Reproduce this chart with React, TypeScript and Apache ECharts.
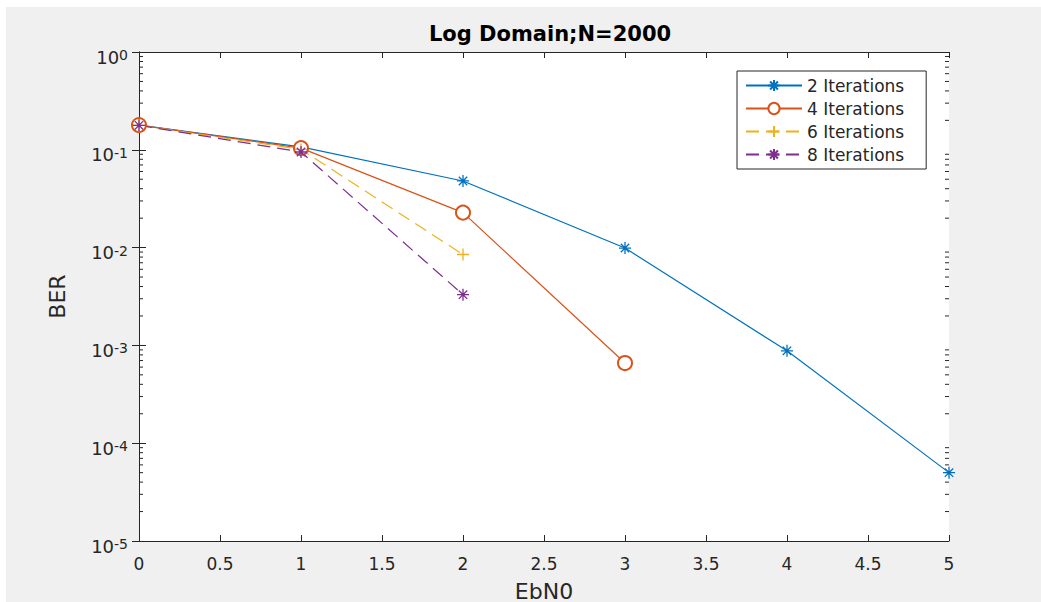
import React, { useEffect, useRef } from 'react';
import * as echarts from 'echarts';

const ebn0 = [0, 1, 2, 3, 4, 5];
const seriesNames = ['2 Iterations', '4 Iterations', '6 Iterations', '8 Iterations'];
const ber2 = [0.179, 0.107, 0.048, 0.0099, 0.00088, 0.00005];
const ber4 = [0.179, 0.104, 0.0228, 0.00066];
const ber6 = [0.178, 0.101, 0.0085];
const ber8 = [0.178, 0.095, 0.0033];
const colors = ['#0072BD', '#D95319', '#EDB120', '#7E2F8E'];
const minorMultipliers = [2, 3, 4, 5, 6, 7, 8, 9];
const decades = [-5, -4, -3, -2, -1];

const FONT = 'DejaVu Sans';
const AX = '#262626';

const asterisk = 'path://M5,0L5,10M0,5L10,5M1.5,1.5L8.5,8.5M1.5,8.5L8.5,1.5';
const plus = 'path://M5,0L5,10M0,5L10,5';

function logLabel(v: number) {
  const e = Math.round(Math.log10(v));
  return '{b|10}{s|' + e + '}';
}

export default function App() {
  const ref = useRef<HTMLDivElement>(null);
  useEffect(() => {
    if (!ref.current) return;
    const chart = echarts.init(ref.current, null, { renderer: 'svg' });
    const pairs = (ys: number[]) => ys.map((y, i) => [ebn0[i], y]);
    const minorVals: number[] = [];
    decades.forEach((d) => minorMultipliers.forEach((m) => minorVals.push(m * Math.pow(10, d))));

    const axisCommon = {
      axisLine: { show: true, lineStyle: { color: AX, width: 1 } },
      splitLine: { show: false },
    };

    const lineSeries = (name: string, data: number[][], color: string, symbol: string, size: number, dashed: boolean) => ({
      name,
      type: 'line',
      data,
      xAxisIndex: 0,
      yAxisIndex: 0,
      symbol,
      symbolSize: size,
      showAllSymbol: true,
      lineStyle: { color, width: 1.2, type: dashed ? [13, 7] : 'solid' },
      itemStyle: { color, borderColor: color, borderWidth: 1.3 },
      emphasis: { disabled: true },
      z: 3,
    });

    chart.setOption({
      animation: false,
      backgroundColor: 'transparent',
      title: {
        text: 'Log Domain;N=2000',
        left: 545,
        top: 18,
        textAlign: 'center',
        textStyle: { fontFamily: FONT, fontSize: 21, fontWeight: 'bold', color: '#000' },
      },
      grid: {
        left: 139,
        top: 52,
        right: 92,
        bottom: 61,
        containLabel: false,
        outerBoundsMode: 'none',
        show: true,
        backgroundColor: '#fff',
        borderWidth: 0,
      },
      legend: {
        data: seriesNames,
        left: 737,
        top: 71,
        orient: 'vertical',
        itemWidth: 56,
        itemHeight: 14,
        itemGap: 6,
        padding: [6, 22, 6, 8],
        borderColor: AX,
        borderWidth: 1,
        backgroundColor: '#fff',
        textStyle: { fontFamily: FONT, fontSize: 17, color: AX },
      },
      xAxis: [
        {
          type: 'value',
          min: 0,
          max: 5,
          interval: 0.5,
          position: 'bottom',
          ...axisCommon,
          axisTick: { show: true, inside: true, length: 6, lineStyle: { color: AX } },
          axisLabel: { fontFamily: FONT, fontSize: 17, color: AX, margin: 14 },
          name: 'EbN0',
          nameLocation: 'middle',
          nameGap: 39,
          nameTextStyle: { fontFamily: FONT, fontSize: 22, color: AX },
        },
        {
          type: 'value',
          min: 0,
          max: 5,
          interval: 0.5,
          position: 'top',
          ...axisCommon,
          axisTick: { show: true, inside: true, length: 6, lineStyle: { color: AX } },
          axisLabel: { show: false },
        },
      ],
      yAxis: [
        {
          type: 'log',
          logBase: 10,
          min: 1e-5,
          max: 1,
          position: 'left',
          ...axisCommon,
          axisTick: { show: true, inside: true, length: 7, lineStyle: { color: AX } },
          axisLabel: {
            formatter: logLabel,
            margin: 11,
            padding: [10, 0, 0, 0],
            rich: {
              b: { fontFamily: FONT, fontSize: 18, lineHeight: 18, color: AX, verticalAlign: 'bottom' },
              s: { fontFamily: FONT, fontSize: 14, lineHeight: 14, color: AX, verticalAlign: 'top', padding: [0, 0, 9, 0] },
            },
          },
          name: 'BER',
          nameLocation: 'middle',
          nameGap: 71,
          nameTextStyle: { fontFamily: FONT, fontSize: 22, color: AX },
        },
        {
          type: 'log',
          logBase: 10,
          min: 1e-5,
          max: 1,
          position: 'right',
          ...axisCommon,
          axisTick: { show: true, inside: true, length: 7, lineStyle: { color: AX } },
          axisLabel: { show: false },
        },
      ],
      series: [
        lineSeries(seriesNames[0], pairs(ber2), colors[0], asterisk, 12, false),
        lineSeries(seriesNames[1], pairs(ber4), colors[1], 'emptyCircle', 14, false),
        lineSeries(seriesNames[2], pairs(ber6), colors[2], plus, 12, true),
        lineSeries(seriesNames[3], pairs(ber8), colors[3], asterisk, 12, true),
        {
          name: 'minorTicks',
          type: 'custom',
          xAxisIndex: 0,
          yAxisIndex: 0,
          silent: true,
          data: minorVals.map((v) => [0, v]),
          encode: { x: 0, y: 1 },
          renderItem: (params: any, api: any) => {
            const v = api.value(1);
            const l = api.coord([0, v]);
            const r = api.coord([5, v]);
            return {
              type: 'group',
              children: [
                { type: 'line', shape: { x1: l[0], y1: l[1], x2: l[0] + 4, y2: l[1] }, style: { stroke: AX, lineWidth: 1 } },
                { type: 'line', shape: { x1: r[0] - 4, y1: r[1], x2: r[0], y2: r[1] }, style: { stroke: AX, lineWidth: 1 } },
              ],
            };
          },
          z: 1,
        },
      ],
    } as any);
    return () => chart.dispose();
  }, []);

  return (
    <div style={{ position: 'fixed', left: 0, top: 0, width: 1041, height: 602, background: '#fff' }}>
      <div style={{ position: 'absolute', left: 6, top: 7, right: 0, bottom: 0, background: '#f0f0f0' }} />
      <div ref={ref} style={{ position: 'absolute', left: 0, top: 0, width: 1041, height: 602 }} />
    </div>
  );
}
